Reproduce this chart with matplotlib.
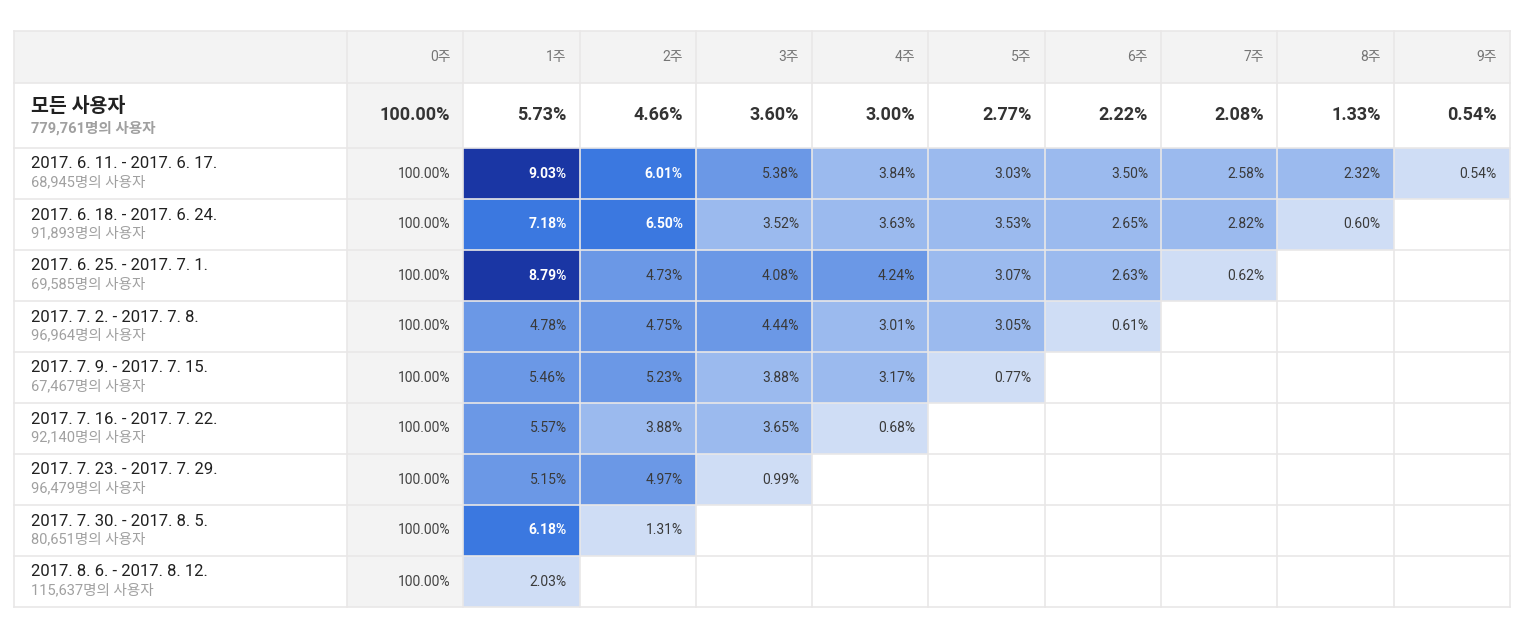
import numpy as np
import matplotlib
matplotlib.use("Agg")
import matplotlib.pyplot as plt
from matplotlib.colors import ListedColormap, BoundaryNorm

plt.rcParams['font.family'] = ['Roboto', 'Noto Sans CJK KR', 'DejaVu Sans']

weeks = ["0주", "1주", "2주", "3주", "4주", "5주", "6주", "7주", "8주", "9주"]
total_label = "모든 사용자"
total_users = "779,761"
summary = [100.00, 5.73, 4.66, 3.60, 3.00, 2.77, 2.22, 2.08, 1.33, 0.54]

cohorts = ["2017. 6. 11. - 2017. 6. 17.",
           "2017. 6. 18. - 2017. 6. 24.",
           "2017. 6. 25. - 2017. 7. 1.",
           "2017. 7. 2. - 2017. 7. 8.",
           "2017. 7. 9. - 2017. 7. 15.",
           "2017. 7. 16. - 2017. 7. 22.",
           "2017. 7. 23. - 2017. 7. 29.",
           "2017. 7. 30. - 2017. 8. 5.",
           "2017. 8. 6. - 2017. 8. 12."]
cohort_users = ["68,945", "91,893", "69,585", "96,964", "67,467",
                "92,140", "96,479", "80,651", "115,637"]

retention = [
    [100.00, 9.03, 6.01, 5.38, 3.84, 3.03, 3.50, 2.58, 2.32, 0.54],
    [100.00, 7.18, 6.50, 3.52, 3.63, 3.53, 2.65, 2.82, 0.60],
    [100.00, 8.79, 4.73, 4.08, 4.24, 3.07, 2.63, 0.62],
    [100.00, 4.78, 4.75, 4.44, 3.01, 3.05, 0.61],
    [100.00, 5.46, 5.23, 3.88, 3.17, 0.77],
    [100.00, 5.57, 3.88, 3.65, 0.68],
    [100.00, 5.15, 4.97, 0.99],
    [100.00, 6.18, 1.31],
    [100.00, 2.03],
]

# layout (pixels)
left, label_w, col_w = 14, 333, 116.3
top, head_h, sum_h, row_h = 31, 52, 65, 51
grid_col = "#e9e7e7"
grey_bg = "#f3f3f3"

n_rows = len(retention)
n_cols = len(weeks)
mat = np.full((n_rows, n_cols - 1), np.nan)
for i, r in enumerate(retention):
    mat[i, :len(r) - 1] = r[1:]
mat = np.ma.masked_invalid(mat)

# five equal colour bins between the smallest and largest retention value
bounds = np.linspace(mat.min(), mat.max(), 6)
bounds[0] -= 0.01
bounds[-1] += 0.01
colors = ["#cfddf5", "#9bbaee", "#6b98e6", "#3b78e0", "#1a36a4"]
cmap = ListedColormap(colors)
norm = BoundaryNorm(bounds, cmap.N)

col_edges = left + label_w + col_w * np.arange(n_cols + 1)
body_top = top + head_h + sum_h
row_edges = body_top + row_h * np.arange(n_rows + 1)
right = col_edges[-1]
bottom = row_edges[-1]

fig = plt.figure(figsize=(15.3, 6.24), dpi=100)
ax = fig.add_axes([0, 0, 1, 1])
ax.set_xlim(0, 1530)
ax.set_ylim(624, 0)
ax.axis("off")

# backgrounds
ax.fill_between([left, right], top, top + head_h, color=grey_bg, lw=0)
ax.fill_between(col_edges[:2], top + head_h, bottom, color=grey_bg, lw=0)

# heat cells
ax.pcolormesh(col_edges[1:], row_edges, mat, cmap=cmap, norm=norm, zorder=1)

# grid lines
for x in np.r_[left, col_edges]:
    ax.plot([x, x], [top, bottom], color=grid_col, lw=1.2, zorder=2)
for y in np.r_[top, top + head_h, row_edges]:
    ax.plot([left, right], [y, y], color=grid_col, lw=1.2, zorder=2)

pad = 13
# header
for j, w in enumerate(weeks):
    ax.text(col_edges[j + 1] - pad, top + head_h / 2, w, ha="right", va="center",
            fontsize=10, color="#757575")

# summary row
ys = top + head_h
ax.text(left + 17, ys + 24, total_label, ha="left", va="center",
        fontsize=14, fontweight="bold", color="#212121")
ax.text(left + 17, ys + 45, total_users + "명의 사용자", ha="left", va="center",
        fontsize=10.5, fontweight="bold", color="#a0a0a0")
for j, v in enumerate(summary):
    ax.text(col_edges[j + 1] - pad, ys + sum_h / 2, f"{v:.2f}%", ha="right",
            va="center", fontsize=13, fontweight="bold", color="#333333")

# cohort rows
for i, (lab, users, r) in enumerate(zip(cohorts, cohort_users, retention)):
    y0 = row_edges[i]
    ax.text(left + 17, y0 + 16, lab, ha="left", va="center",
            fontsize=12, color="#212121")
    ax.text(left + 17, y0 + 34, users + "명의 사용자", ha="left", va="center",
            fontsize=10.5, color="#a0a0a0")
    for j, v in enumerate(r):
        if j == 0:
            c = "#444444"
        else:
            c = "white" if norm(v) >= 3 else "#3a3a3a"
        ax.text(col_edges[j + 1] - pad, y0 + row_h / 2, f"{v:.2f}%", ha="right",
                va="center", fontsize=10, color=c,
                fontweight="bold" if c == "white" else "normal")

fig.savefig("out.png", dpi=100, facecolor="white")
